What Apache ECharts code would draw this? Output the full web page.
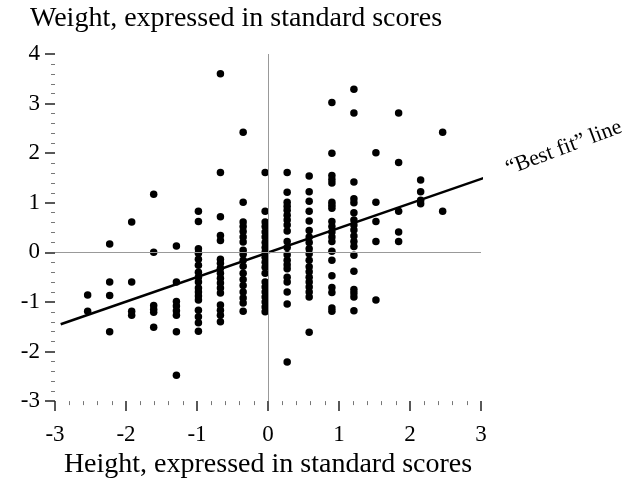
<!DOCTYPE html>
<html>
<head>
<meta charset="utf-8">
<script src="https://cdn.jsdelivr.net/npm/echarts@6/dist/echarts.min.js"></script>
<style>
  html, body { margin: 0; padding: 0; background: #fff; }
  #chart { width: 626px; height: 484px; }
</style>
</head>
<body>
<div id="chart"></div>
<script>
// height columns (standard scores) and the weights found in each column
var heightCols = [-2.54, -2.23, -1.92, -1.61, -1.29, -0.98, -0.67, -0.35, -0.04, 0.27, 0.58, 0.90, 1.21, 1.52, 1.84, 2.15, 2.46];
var weightCols = [
    [-0.86, -1.19],
    [0.17, -0.6, -0.87, -1.6],
    [0.61, -0.6, -1.19, -1.27],
    [1.17, 0.0, -1.07, -1.15, -1.21, -1.51],
    [0.13, -0.6, -0.99, -1.08, -1.18, -1.27, -1.6, -2.48],
    [0.83, 0.62, 0.07, -0.02, -0.14, -0.26, -0.4, -0.5, -0.6, -0.72, -0.8, -0.88, -0.96, -1.17, -1.3, -1.42, -1.59],
    [3.6, 1.61, 0.72, 0.34, 0.24, -0.14, -0.22, -0.32, -0.42, -0.52, -0.62, -0.72, -0.82, -1.06, -1.17, -1.27, -1.4],
    [2.42, 1.01, 0.61, 0.52, 0.42, 0.31, 0.21, 0.04, -0.04, -0.16, -0.28, -0.42, -0.55, -0.67, -0.8, -0.92, -1.02, -1.19],
    [1.61, 0.83, 0.61, 0.52, 0.41, 0.31, 0.2, 0.1, 0.0, -0.1, -0.2, -0.3, -0.42, -0.6, -0.7, -0.8, -0.9, -1.0, -1.1, -1.2],
    [1.61, 1.21, 1.01, 0.93, 0.85, 0.75, 0.65, 0.55, 0.43, 0.22, 0.1, -0.05, -0.16, -0.25, -0.33, -0.5, -0.6, -0.8, -1.04, -2.21],
    [1.54, 1.22, 1.03, 0.83, 0.63, 0.44, 0.31, 0.2, 0.07, -0.03, -0.16, -0.29, -0.39, -0.5, -0.6, -0.7, -0.8, -0.9, -1.61],
    [3.02, 2.0, 1.55, 1.47, 1.4, 1.01, 0.95, 0.89, 0.62, 0.52, 0.41, 0.31, 0.22, 0.02, -0.16, -0.47, -0.71, -0.81, -1.12, -1.19],
    [3.29, 2.81, 1.42, 1.08, 1.0, 0.8, 0.65, 0.55, 0.45, 0.33, 0.22, 0.12, -0.06, -0.38, -0.75, -0.82, -0.9, -1.18],
    [2.01, 1.01, 0.62, 0.22, -0.96],
    [2.81, 1.81, 0.83, 0.41, 0.22],
    [1.46, 1.22, 1.05, 0.98],
    [2.42, 0.83]
];
// best fit line end points
var fitX = [-2.92, 3.1];
var fitY = [-1.45, 1.53];

var serif = '"Liberation Serif", "DejaVu Serif", serif';

var points = [];
for (var i = 0; i < heightCols.length; i++) {
    for (var j = 0; j < weightCols[i].length; j++) {
        points.push([heightCols[i], weightCols[i][j]]);
    }
}
var fitLine = [];
for (var k = 0; k < fitX.length; k++) {
    fitLine.push([fitX[k], fitY[k]]);
}

var chart = echarts.init(document.getElementById('chart'));
chart.setOption({
    animation: false,
    backgroundColor: '#fff',
    title: {
        text: 'Weight, expressed in standard scores',
        left: 25,
        top: 0,
        textStyle: {fontFamily: serif, fontSize: 28, fontWeight: 'normal', color: '#000'}
    },
    grid: {left: 55, right: 145, top: 54, bottom: 72},
    xAxis: {
        type: 'value',
        min: -3, max: 3, interval: 1,
        name: 'Height, expressed in standard scores',
        nameLocation: 'middle',
        nameGap: 42,
        nameTextStyle: {fontFamily: serif, fontSize: 28, color: '#000'},
        axisLine: {show: false, onZero: false},
        axisTick: {show: true, length: 10, lineStyle: {color: '#222', width: 1.5}},
        minorTick: {show: true, splitNumber: 5, length: 4, lineStyle: {color: '#777'}},
        splitLine: {show: false},
        axisLabel: {fontFamily: serif, fontSize: 23, color: '#000', margin: 22}
    },
    yAxis: {
        type: 'value',
        min: -3, max: 4, interval: 1,
        axisLine: {show: false, onZero: false},
        axisTick: {show: true, length: 10, lineStyle: {color: '#222', width: 1.5}},
        minorTick: {show: true, splitNumber: 5, length: 4, lineStyle: {color: '#777'}},
        splitLine: {show: false},
        axisLabel: {fontFamily: serif, fontSize: 23, color: '#000', margin: 15}
    },
    series: [{
        type: 'line',
        data: fitLine,
        symbol: 'none',
        clip: false,
        lineStyle: {color: '#000', width: 2.5},
        z: 3,
        markLine: {
            silent: true,
            symbol: 'none',
            label: {show: false},
            lineStyle: {color: '#999', width: 1, type: 'solid'},
            data: [{xAxis: 0}, {yAxis: 0}]
        }
    }, {
        type: 'scatter',
        data: points,
        symbolSize: 7.5,
        itemStyle: {color: '#000', opacity: 1},
        z: 4
    }],
    graphic: [{
        type: 'text',
        x: 564,
        y: 148,
        rotation: 0.36,
        style: {
            text: '\u201cBest fit\u201d line',
            font: '22px ' + serif,
            fill: '#000',
            align: 'center',
            verticalAlign: 'middle'
        }
    }]
});
</script>
</body>
</html>
